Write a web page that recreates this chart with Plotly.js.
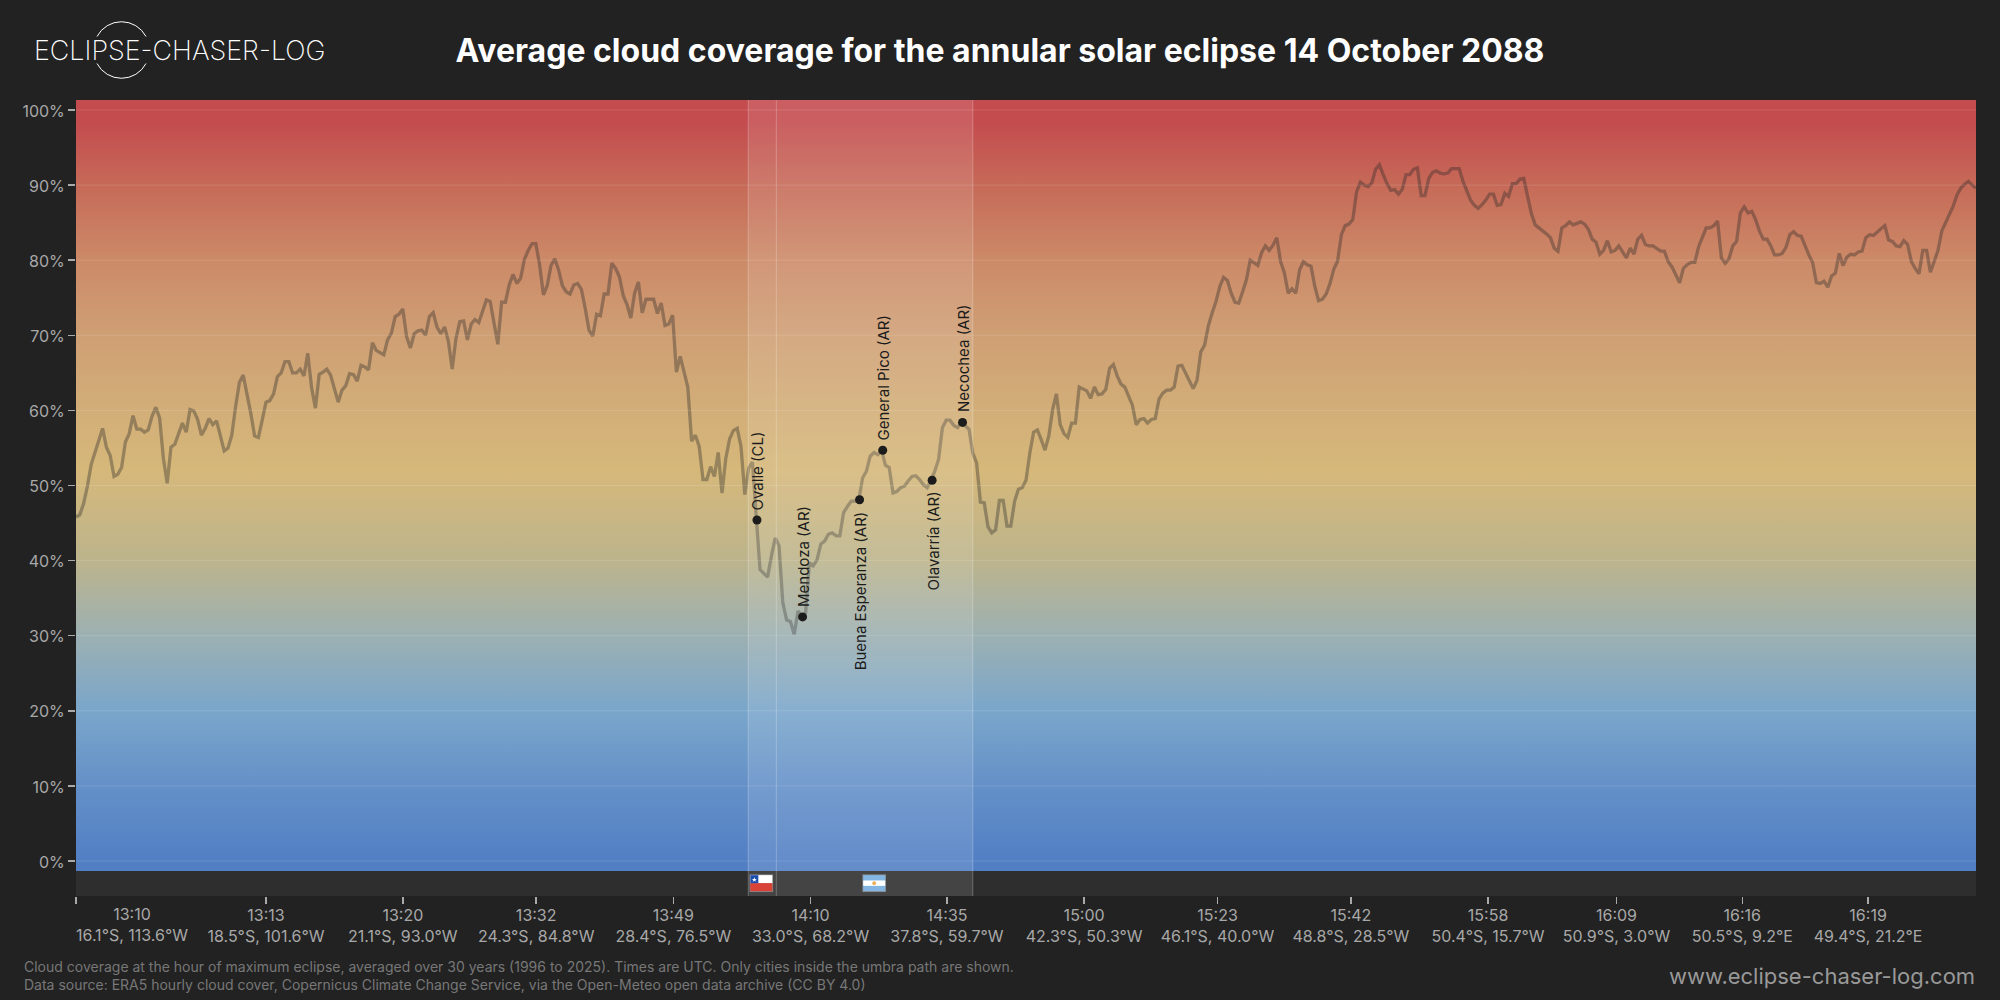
<!DOCTYPE html>
<html>
<head>
<meta charset="utf-8">
<script src="https://cdn.plot.ly/plotly-3.0.1.min.js"></script>
<style>html,body{margin:0;padding:0;background:#222222;}</style>
</head>
<body>
<div id="chart" style="width:2000px;height:1000px;"></div>
<script>
const cloudCover = [
45.8,46.1,47.6,49.9,52.8,54.3,56.1,57.6,55.1,54.0,
51.2,51.5,52.4,55.8,56.9,59.3,57.5,57.5,57.1,57.4,
59.2,60.4,59.0,53.6,50.3,55.1,55.5,56.8,58.3,57.1,
60.1,59.9,58.8,56.7,57.6,58.9,58.1,58.6,56.7,54.6,
55.0,56.7,60.5,63.7,64.7,62.3,59.6,56.6,56.4,58.7,
61.1,61.3,62.2,64.5,65.0,66.5,66.5,65.0,65.0,65.5,
64.6,67.6,63.0,60.3,64.8,65.1,65.5,64.7,62.7,61.1,
62.7,63.3,64.9,64.8,63.9,66.0,65.8,65.4,69.0,68.0,
67.7,67.4,69.4,70.3,72.5,72.8,73.5,69.8,68.3,70.2,
70.6,70.7,70.0,72.5,73.0,71.1,70.2,71.1,69.2,65.5,
69.6,71.8,71.9,69.4,71.5,72.1,71.7,73.3,74.7,74.5,
71.6,68.8,74.4,74.4,76.7,78.1,76.9,77.6,80.1,81.3,
82.2,82.2,79.4,75.4,76.6,79.3,80.2,78.7,76.6,75.8,
75.5,76.7,76.9,76.1,73.6,70.7,69.9,72.8,72.6,75.5,
75.5,79.6,78.9,77.8,75.3,74.1,72.3,75.6,77.1,73.0,
74.8,74.8,74.8,72.9,74.3,71.3,71.5,72.7,65.1,67.2,
65.0,63.1,55.9,56.7,55.2,50.8,50.8,52.5,51.2,54.4,
49.0,53.6,56.2,57.3,57.6,55.2,48.8,52.3,53.1,
45.4,38.8,38.3,37.8,40.6,43.0,42.0,34.4,32.1,31.9,30.2,33.3,32.5,33.0,
39.7,39.3,40.1,42.2,42.6,43.5,43.7,43.3,43.3,46.4,47.2,47.9,47.9,48.1,
51.0,51.9,53.9,54.4,54.1,54.7,52.7,52.4,49.0,49.2,49.7,49.9,50.6,51.2,51.3,
50.8,50.1,49.7,50.7,51.9,53.5,57.7,58.7,58.7,58.0,57.7,58.4,57.9,57.5,
54.3,53.0,47.8,47.7,44.5,43.7,44.1,48.0,48.0,44.6,44.6,47.9,49.5,49.7,50.7,
54.3,57.1,57.4,56.1,54.7,56.6,60.1,62.2,58.1,56.9,56.4,58.3,58.3,63.1,62.9,
62.6,61.6,63.1,62.1,62.2,62.8,65.6,66.1,64.6,63.5,63.1,61.9,60.7,58.1,58.8,
58.9,58.3,58.8,58.9,61.5,62.3,62.7,62.7,63.1,65.9,66.0,65.0,63.9,62.9,64.0,
67.8,68.7,71.3,73.0,74.5,76.5,77.7,77.3,75.6,74.4,74.3,75.8,77.4,80.0,79.6,
79.3,81.0,81.9,81.3,82.0,83.0,79.8,78.3,75.6,76.2,75.6,78.7,79.8,79.4,79.2,
76.5,74.6,74.8,75.5,76.9,78.8,79.9,83.4,84.6,84.8,85.4,89.1,90.4,90.0,89.8,
90.3,92.1,92.7,91.4,90.2,89.3,89.4,88.8,89.4,91.4,91.4,92.1,92.3,88.6,88.6,
90.9,91.7,91.9,91.6,91.5,91.6,92.2,92.2,92.2,90.5,89.3,88.0,87.3,86.9,87.4,
88.0,88.8,88.8,87.3,87.4,88.9,88.5,90.2,90.2,90.8,90.9,88.5,86.2,84.7,84.3,
84.0,83.5,83.0,81.6,81.2,84.3,84.6,85.1,84.7,84.9,85.1,84.8,84.1,82.8,82.4,
80.8,81.3,82.6,81.1,81.3,81.9,81.1,80.3,81.6,80.8,82.8,83.3,82.1,81.9,81.9,
81.6,81.2,81.2,79.8,79.1,78.1,77.0,78.9,79.4,79.7,79.7,81.8,83.1,84.3,84.3,
84.6,85.2,80.3,79.6,80.2,81.9,82.5,86.3,87.1,86.3,86.5,85.4,83.9,82.8,82.8,
81.9,80.7,80.7,80.9,81.7,83.4,83.8,83.3,83.2,81.8,80.7,79.7,77.0,76.9,77.2,
76.4,77.9,78.3,80.9,79.3,80.4,80.8,80.7,81.1,81.2,83.0,83.4,83.3,83.8,84.2,
84.6,82.7,82.5,81.9,81.8,82.6,82.1,79.8,78.9,78.2,81.3,81.3,78.4,79.7,81.3,
83.9,85.0,85.9,87.2,88.7,89.6,90.1,90.5,90.0,89.6
];
const sampleIndex = cloudCover.map((_, i) => i);

const cityNames = ["Ovalle (CL)","Mendoza (AR)","Buena Esperanza (AR)","General Pico (AR)","Olavarría (AR)","Necochea (AR)"];
const cityX = [179.2,191.2,206.2,212.3,225.3,233.3];
const cityY = [45.4,32.5,48.1,54.7,50.7,58.4];
const cityLabelAbove = [true,true,false,true,false,true];

const xTickVals = [0,50,86,121.1,157.2,193.3,229.2,265.3,300.4,335.5,371.6,405.4,438.5,471.6];
const xTickTimes = ["13:10","13:13","13:20","13:32","13:49","14:10","14:35","15:00","15:23","15:42","15:58","16:09","16:16","16:19"];
const xTickCoords = ["16.1°S, 113.6°W","18.5°S, 101.6°W","21.1°S, 93.0°W","24.3°S, 84.8°W","28.4°S, 76.5°W","33.0°S, 68.2°W","37.8°S, 59.7°W","42.3°S, 50.3°W","46.1°S, 40.0°W","48.8°S, 28.5°W","50.4°S, 15.7°W","50.9°S, 3.0°W","50.5°S, 9.2°E","49.4°S, 21.2°E"];
const yTickVals = [0,10,20,30,40,50,60,70,80,90,100];
const yTickText = yTickVals.map(v => v + "%");

const countryBands = [[176.9,184.3],[184.3,236.0]];
const bandEdges = [176.9,184.3,236.0];
const gradientStops = [
 [0,"#527fc4"],[0.1,"#6490c8"],[0.2,"#7aa6cb"],[0.3,"#9cb0b2"],[0.4,"#bcb48c"],
 [0.52,"#d6b87a"],[0.6,"#d2ae78"],[0.7,"#cf9f74"],[0.8,"#cc8a68"],[0.9,"#c66a58"],[0.985,"#c44b4e"],[1,"#c44b4e"]
];

const FONT = "Inter, 'Noto Sans', sans-serif";
const xMax = 500, yMin = -4.66, yMax = 101.33, gradBottom = -1.33;

const svgUri = s => "data:image/svg+xml;utf8," + encodeURIComponent(s);
const chileFlag = svgUri('<svg xmlns="http://www.w3.org/2000/svg" width="24" height="18" viewBox="0 0 24 18"><rect width="24" height="18" fill="#777"/><rect x="1" y="1" width="22" height="8" fill="#fff"/><rect x="1" y="9" width="22" height="8" fill="#d52b1e"/><rect x="1" y="1" width="8" height="8" fill="#0039a6"/><path d="M5 3l.6 1.8h1.9l-1.5 1.1.6 1.8-1.6-1.1-1.6 1.1.6-1.8-1.5-1.1h1.9z" fill="#fff"/></svg>');
const argFlag = svgUri('<svg xmlns="http://www.w3.org/2000/svg" width="24" height="18" viewBox="0 0 24 18"><rect width="24" height="18" fill="#777"/><rect x="1" y="1" width="22" height="16" fill="#74acdf"/><rect x="1" y="6.3" width="22" height="5.4" fill="#fff"/><circle cx="12" cy="9" r="1.9" fill="#e8a33d"/></svg>');
const ring = svgUri('<svg xmlns="http://www.w3.org/2000/svg" width="60" height="60" viewBox="0 0 60 60"><path d="M5.5 16.5 A27.7 27.7 0 0 1 54.5 16.5 M54.5 43.5 A27.7 27.7 0 0 1 5.5 43.5" fill="none" stroke="#fff" stroke-width="1"/></svg>');

const px2x = px => (px - 76) / 1900;
const py2y = py => (896 - py) / 796;

const traces = [
  { type:"scatter", mode:"lines", x:[0,xMax,xMax,0,0], y:[gradBottom,gradBottom,yMax,yMax,gradBottom],
    fill:"toself", line:{width:0}, hoverinfo:"skip", showlegend:false,
    fillgradient:{type:"vertical", colorscale:gradientStops, start:0, stop:100} },
  { type:"scatter", mode:"lines", x:sampleIndex, y:cloudCover, showlegend:false,
    line:{color:"rgba(40,40,40,0.36)", width:3.3, shape:"linear"}, hoverinfo:"x+y" },
  { type:"scatter", mode:"markers", x:cityX, y:cityY, text:cityNames, showlegend:false,
    marker:{color:"#000000", size:9}, hoverinfo:"text" }
];

const shapes = [];
yTickVals.forEach(v => shapes.push({type:"line", layer:"above", xref:"paper", yref:"y", x0:0, x1:1, y0:v, y1:v,
  line:{color:"rgba(255,255,255,0.13)", width:1}}));
countryBands.forEach(b => shapes.push({type:"rect", layer:"above", xref:"x", yref:"paper", x0:b[0], x1:b[1], y0:0, y1:1,
  fillcolor:"rgba(255,255,255,0.11)", line:{width:0}}));
bandEdges.forEach(e => shapes.push({type:"line", layer:"above", xref:"x", yref:"paper", x0:e, x1:e, y0:0, y1:1,
  line:{color:"rgba(255,255,255,0.25)", width:1}}));

const annotations = cityNames.map((n,i) => ({
  text:n, x:cityX[i], y:cityY[i], xref:"x", yref:"y", showarrow:false, textangle:-90, borderpad:0,
  xanchor:"center", yanchor: cityLabelAbove[i] ? "bottom" : "top", yshift: cityLabelAbove[i] ? 9 : -10.5, xshift:1,
  font:{family:FONT, size:15, color:"#1c1c1c"}
}));
annotations.push({
  text:xTickTimes[0]+"<br>"+xTickCoords[0], x:0, xref:"x", y:py2y(902.5), yref:"paper", xanchor:"left", yanchor:"top",
  align:"center", showarrow:false, borderpad:0, xshift:-1, font:{family:FONT, size:16, color:"#a8a8a8"}
});
annotations.push({
  text:"Cloud coverage at the hour of maximum eclipse, averaged over 30 years (1996 to 2025). Times are UTC. Only cities inside the umbra path are shown.<br>Data source: ERA5 hourly cloud cover, Copernicus Climate Change Service, via the Open-Meteo open data archive (CC BY 4.0)",
  xref:"paper", yref:"paper", x:px2x(24), y:py2y(975), xanchor:"left", yanchor:"middle", align:"left", showarrow:false, borderpad:0, xshift:-1,
  font:{family:FONT, size:14, color:"#777777"}
});
annotations.push({
  text:"www.eclipse-chaser-log.com", xref:"paper", yref:"paper", x:1, y:py2y(976), xanchor:"right", yanchor:"middle",
  showarrow:false, borderpad:0, font:{family:FONT, size:22, color:"#999999"}
});
annotations.push({
  text:"ECLIPSE-CHASER-LOG", xref:"paper", yref:"paper", x:px2x(33), y:py2y(50), xanchor:"left", yanchor:"middle",
  showarrow:false, borderpad:0, font:{family:FONT, size:26.9, weight:200, color:"#ffffff"}
});

const images = [
  {source:chileFlag, xref:"x", yref:"y", x:177.2, y:-1.75, sizex:6.3, sizey:2.4, sizing:"stretch", xanchor:"left", yanchor:"top", layer:"above"},
  {source:argFlag, xref:"x", yref:"y", x:206.9, y:-1.75, sizex:6.3, sizey:2.4, sizing:"stretch", xanchor:"left", yanchor:"top", layer:"above"},
  {source:ring, xref:"paper", yref:"paper", x:px2x(91.5), y:py2y(20), sizex:60/1900, sizey:60/796, sizing:"stretch", xanchor:"left", yanchor:"top", layer:"above"}
];

const layout = {
  width:2000, height:1000,
  paper_bgcolor:"#222222", plot_bgcolor:"#2e2e2e",
  margin:{l:76, r:24, t:100, b:104, pad:0},
  showlegend:false,
  font:{family:FONT, color:"#a8a8a8"},
  title:{text:"Average cloud coverage for the annular solar eclipse 14 October 2088",
    x:0.5, xref:"container", xanchor:"center", y:0.949, yref:"container", yanchor:"middle",
    font:{family:FONT, size:32, weight:700, color:"#ffffff"}},
  xaxis:{range:[0,xMax], tickmode:"array", tickvals:xTickVals,
    ticktext:xTickTimes.map((t,i)=> i===0 ? "" : t+"<br>"+xTickCoords[i]),
    ticks:"outside", ticklen:7, tickwidth:1.5, tickcolor:"#aaaaaa", ticklabelstandoff:-2,
    tickfont:{family:FONT, size:16, color:"#a8a8a8"}, showgrid:false, zeroline:false, showline:false, tickangle:0, fixedrange:true},
  yaxis:{range:[yMin,yMax], tickmode:"array", tickvals:yTickVals, ticktext:yTickText,
    ticks:"outside", ticklen:7, tickwidth:1.5, tickcolor:"#aaaaaa", ticklabelshift:1,
    tickfont:{family:FONT, size:16, color:"#a8a8a8"}, showgrid:false, zeroline:false, showline:false, fixedrange:true},
  shapes, annotations, images
};
Plotly.newPlot("chart", traces, layout, {displayModeBar:false, staticPlot:true});
</script>
</body>
</html>
